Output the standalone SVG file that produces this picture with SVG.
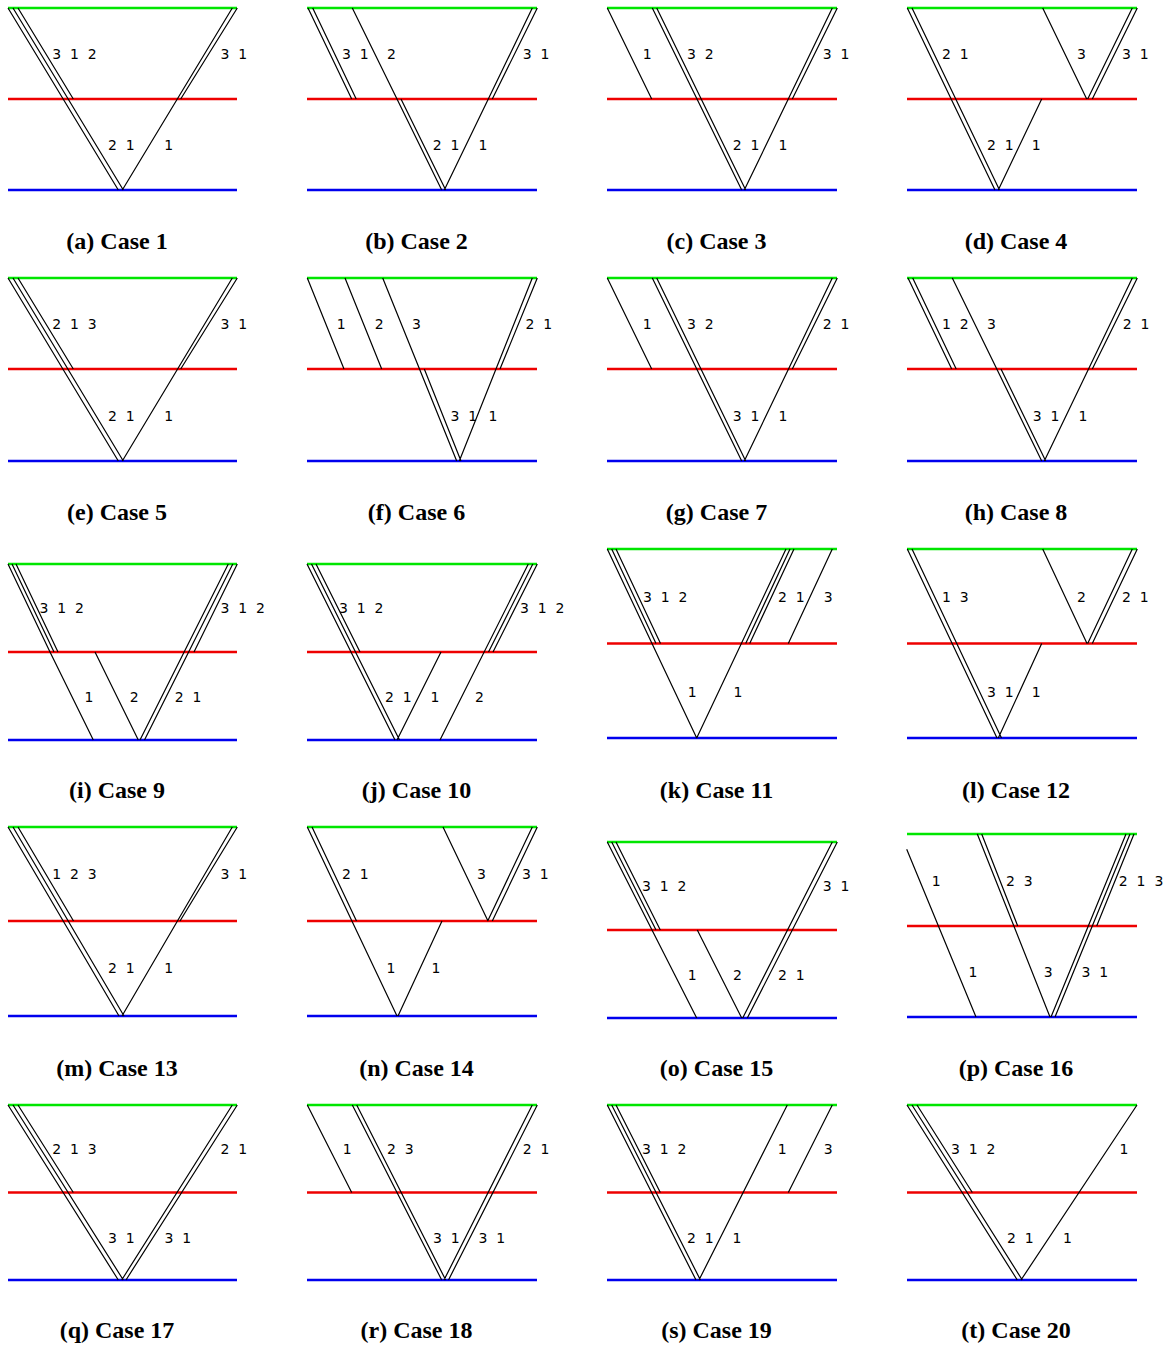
<svg xmlns="http://www.w3.org/2000/svg" width="1172" height="1348" viewBox="0 0 1172 1348">
<style>
.gl{stroke:#00e600;stroke-width:2.6}
.rl{stroke:#ee0000;stroke-width:2.6}
.bl{stroke:#0000ee;stroke-width:2.6}
.ray{fill:none;stroke:#000;stroke-width:1.2}
.lb{font-family:"DejaVu Sans",sans-serif;font-size:14px;fill:#000;white-space:pre}
.cap{font-family:"Liberation Serif",serif;font-size:24px;font-weight:bold;text-anchor:middle;fill:#000}
</style>
<rect width="1172" height="1348" fill="#fff"/>

<g id="case1">
<line class="gl" x1="8" y1="8" x2="237" y2="8"/><line class="rl" x1="8" y1="99" x2="237" y2="99"/><line class="bl" x1="8" y1="190" x2="237" y2="190"/>
<path class="ray" d="M8 8L118.3 190M13 8L123.3 190M18 8L73.3 99M237.3 8L180.7 99M232.3 8L122.3 190"/>
<g xml:space="preserve"><text class="lb" x="52.2" y="59">3  1  2</text><text class="lb" x="220.5" y="59">3  1</text><text class="lb" x="108" y="150">2  1</text><text class="lb" x="164.2" y="150">1</text></g>
<text class="cap" x="117" y="249">(a) Case 1</text>
</g>

<g id="case2">
<line class="gl" x1="307" y1="8" x2="537" y2="8"/><line class="rl" x1="307" y1="99" x2="537" y2="99"/><line class="bl" x1="307" y1="190" x2="537" y2="190"/>
<path class="ray" d="M308 8L351.7 99M312.7 8L356.2 99M352.3 8L441.7 190M401 99L445.7 190M537.3 8L492.3 99M532.3 8L444.3 190"/>
<g xml:space="preserve"><text class="lb" x="342" y="59">3  1</text><text class="lb" x="387" y="59">2</text><text class="lb" x="522.8" y="59">3  1</text><text class="lb" x="432.8" y="150">2  1</text><text class="lb" x="478.4" y="150">1</text></g>
<text class="cap" x="416.5" y="249">(b) Case 2</text>
</g>

<g id="case3">
<line class="gl" x1="607" y1="8" x2="837" y2="8"/><line class="rl" x1="607" y1="99" x2="837" y2="99"/><line class="bl" x1="607" y1="190" x2="837" y2="190"/>
<path class="ray" d="M607.3 8L651.7 99M652.3 8L741.7 190M656.7 8L745.7 190M837.3 8L792.3 99M832.3 8L744.3 190"/>
<g xml:space="preserve"><text class="lb" x="642.7" y="59">1</text><text class="lb" x="687" y="59">3  2</text><text class="lb" x="822.8" y="59">3  1</text><text class="lb" x="732.8" y="150">2  1</text><text class="lb" x="778.4" y="150">1</text></g>
<text class="cap" x="716.5" y="249">(c) Case 3</text>
</g>

<g id="case4">
<line class="gl" x1="907" y1="8" x2="1137" y2="8"/><line class="rl" x1="907" y1="99" x2="1137" y2="99"/><line class="bl" x1="907" y1="190" x2="1137" y2="190"/>
<path class="ray" d="M907.3 8L995 190M912 8L999.5 190M1042.7 8L1086.7 99M1137.3 8L1092.3 99M1132.3 8L1087.7 99M1041.7 99L998.3 190"/>
<g xml:space="preserve"><text class="lb" x="942" y="59">2  1</text><text class="lb" x="1077" y="59">3</text><text class="lb" x="1122" y="59">3  1</text><text class="lb" x="987" y="150">2  1</text><text class="lb" x="1031.7" y="150">1</text></g>
<text class="cap" x="1016" y="249">(d) Case 4</text>
</g>

<g id="case5">
<line class="gl" x1="8" y1="278" x2="237" y2="278"/><line class="rl" x1="8" y1="369" x2="237" y2="369"/><line class="bl" x1="8" y1="461" x2="237" y2="461"/>
<path class="ray" d="M8 278L118.3 461M13 278L123.3 461M18 278L73.3 369M237.3 278L180.7 369M232.3 278L122.3 461"/>
<g xml:space="preserve"><text class="lb" x="52.2" y="329.3">2  1  3</text><text class="lb" x="220.5" y="329.3">3  1</text><text class="lb" x="108" y="420.7">2  1</text><text class="lb" x="164.2" y="420.7">1</text></g>
<text class="cap" x="117" y="520">(e) Case 5</text>
</g>

<g id="case6">
<line class="gl" x1="307" y1="278" x2="537" y2="278"/><line class="rl" x1="307" y1="369" x2="537" y2="369"/><line class="bl" x1="307" y1="461" x2="537" y2="461"/>
<path class="ray" d="M307.3 278L344 369M345 278L381.7 369M382.7 278L456.7 461M424.3 369L461 461M537.3 278L500 369M532.3 278L459.3 461"/>
<g xml:space="preserve"><text class="lb" x="336.7" y="329.3">1</text><text class="lb" x="374.8" y="329.3">2</text><text class="lb" x="412" y="329.3">3</text><text class="lb" x="525.5" y="329.3">2  1</text><text class="lb" x="450.5" y="420.7">3  1</text><text class="lb" x="488.4" y="420.7">1</text></g>
<text class="cap" x="416.5" y="520">(f) Case 6</text>
</g>

<g id="case7">
<line class="gl" x1="607" y1="278" x2="837" y2="278"/><line class="rl" x1="607" y1="369" x2="837" y2="369"/><line class="bl" x1="607" y1="461" x2="837" y2="461"/>
<path class="ray" d="M607.3 278L651.7 369M652.3 278L741.7 461M656.7 278L745.7 461M837.3 278L792.3 369M832.3 278L744.3 461"/>
<g xml:space="preserve"><text class="lb" x="642.7" y="329.3">1</text><text class="lb" x="687" y="329.3">3  2</text><text class="lb" x="822.8" y="329.3">2  1</text><text class="lb" x="732.8" y="420.7">3  1</text><text class="lb" x="778.4" y="420.7">1</text></g>
<text class="cap" x="716.5" y="520">(g) Case 7</text>
</g>

<g id="case8">
<line class="gl" x1="907" y1="278" x2="1137" y2="278"/><line class="rl" x1="907" y1="369" x2="1137" y2="369"/><line class="bl" x1="907" y1="461" x2="1137" y2="461"/>
<path class="ray" d="M908 278L951.7 369M912.7 278L956.2 369M952.3 278L1041.7 461M1001 369L1045.7 461M1137.3 278L1092.3 369M1132.3 278L1044.3 461"/>
<g xml:space="preserve"><text class="lb" x="942" y="329.3">1  2</text><text class="lb" x="987" y="329.3">3</text><text class="lb" x="1122.8" y="329.3">2  1</text><text class="lb" x="1032.8" y="420.7">3  1</text><text class="lb" x="1078.4" y="420.7">1</text></g>
<text class="cap" x="1016" y="520">(h) Case 8</text>
</g>

<g id="case9">
<line class="gl" x1="8" y1="564" x2="237" y2="564"/><line class="rl" x1="8" y1="652" x2="237" y2="652"/><line class="bl" x1="8" y1="740" x2="237" y2="740"/>
<path class="ray" d="M8 564L50 652L93.3 740M12 564L54 652M16 564L58 652M95 652L138.3 740M237.3 564L194 652M232.8 564L144.5 740M228.3 564L140 740"/>
<g xml:space="preserve"><text class="lb" x="39.5" y="613.3">3  1  2</text><text class="lb" x="220.5" y="613.3">3  1  2</text><text class="lb" x="84.4" y="701.7">1</text><text class="lb" x="129.8" y="701.7">2</text><text class="lb" x="174.8" y="701.7">2  1</text></g>
<text class="cap" x="117" y="798">(i) Case 9</text>
</g>

<g id="case10">
<line class="gl" x1="307" y1="564" x2="537" y2="564"/><line class="rl" x1="307" y1="652" x2="537" y2="652"/><line class="bl" x1="307" y1="740" x2="537" y2="740"/>
<path class="ray" d="M307 564L395 740M311.5 564L399.5 740M316 564L360 652M537.3 564L493 652M532.8 564L488.5 652M528.3 564L440 740M441 652L397 740"/>
<g xml:space="preserve"><text class="lb" x="339" y="613.3">3  1  2</text><text class="lb" x="520" y="613.3">3  1  2</text><text class="lb" x="385" y="701.7">2  1</text><text class="lb" x="430.4" y="701.7">1</text><text class="lb" x="475" y="701.7">2</text></g>
<text class="cap" x="416.5" y="798">(j) Case 10</text>
</g>

<g id="case11">
<line class="gl" x1="607" y1="549" x2="837" y2="549"/><line class="rl" x1="607" y1="643.5" x2="837" y2="643.5"/><line class="bl" x1="607" y1="738" x2="837" y2="738"/>
<path class="ray" d="M607.3 549L696.7 738M611.7 549L656 643.5M616 549L660.5 643.5M786 549L696.7 738M790 549L745.7 643.5M794 549L749.7 643.5M832.3 549L788.3 643.5"/>
<g xml:space="preserve"><text class="lb" x="643" y="601.7">3  1  2</text><text class="lb" x="778" y="601.7">2  1</text><text class="lb" x="823.8" y="601.7">3</text><text class="lb" x="687.7" y="696.7">1</text><text class="lb" x="733.4" y="696.7">1</text></g>
<text class="cap" x="716.5" y="798">(k) Case 11</text>
</g>

<g id="case12">
<line class="gl" x1="907" y1="549" x2="1137" y2="549"/><line class="rl" x1="907" y1="643.5" x2="1137" y2="643.5"/><line class="bl" x1="907" y1="738" x2="1137" y2="738"/>
<path class="ray" d="M907.3 549L997 738M912 549L1001.5 738M1042.7 549L1087 643.5M1137.3 549L1092.3 643.5M1132.3 549L1087.7 643.5M1041.7 643.5L998.3 738"/>
<g xml:space="preserve"><text class="lb" x="942" y="601.7">1  3</text><text class="lb" x="1077" y="601.7">2</text><text class="lb" x="1122" y="601.7">2  1</text><text class="lb" x="987" y="696.7">3  1</text><text class="lb" x="1031.7" y="696.7">1</text></g>
<text class="cap" x="1016" y="798">(l) Case 12</text>
</g>

<g id="case13">
<line class="gl" x1="8" y1="827" x2="237" y2="827"/><line class="rl" x1="8" y1="921" x2="237" y2="921"/><line class="bl" x1="8" y1="1016" x2="237" y2="1016"/>
<path class="ray" d="M8 827L119 1016M13 827L124 1016M18 827L73.5 921M237.3 827L180 921M232.3 827L122 1016"/>
<g xml:space="preserve"><text class="lb" x="52.2" y="879">1  2  3</text><text class="lb" x="220.5" y="879">3  1</text><text class="lb" x="108" y="973">2  1</text><text class="lb" x="164.2" y="973">1</text></g>
<text class="cap" x="117" y="1076">(m) Case 13</text>
</g>

<g id="case14">
<line class="gl" x1="307" y1="827" x2="537" y2="827"/><line class="rl" x1="307" y1="921" x2="537" y2="921"/><line class="bl" x1="307" y1="1016" x2="537" y2="1016"/>
<path class="ray" d="M307.3 827L397 1016M312 827L356.5 921M443 827L488 921M537.3 827L492.3 921M532.3 827L487.7 921M442 921L398 1016"/>
<g xml:space="preserve"><text class="lb" x="342" y="879">2  1</text><text class="lb" x="477" y="879">3</text><text class="lb" x="522" y="879">3  1</text><text class="lb" x="386.5" y="973">1</text><text class="lb" x="431.5" y="973">1</text></g>
<text class="cap" x="416.5" y="1076">(n) Case 14</text>
</g>

<g id="case15">
<line class="gl" x1="607" y1="842" x2="837" y2="842"/><line class="rl" x1="607" y1="930" x2="837" y2="930"/><line class="bl" x1="607" y1="1018" x2="837" y2="1018"/>
<path class="ray" d="M607.3 842L696.7 1018M611.7 842L656 930M616 842L660.3 930M697.3 930L741.7 1018M837.3 842L747.3 1018M832.3 842L742.7 1018"/>
<g xml:space="preserve"><text class="lb" x="642" y="891">3  1  2</text><text class="lb" x="822.8" y="891">3  1</text><text class="lb" x="687.7" y="980">1</text><text class="lb" x="733" y="980">2</text><text class="lb" x="778" y="980">2  1</text></g>
<text class="cap" x="716.5" y="1076">(o) Case 15</text>
</g>

<g id="case16">
<line class="gl" x1="907" y1="834" x2="1137" y2="834"/><line class="rl" x1="907" y1="926" x2="1137" y2="926"/><line class="bl" x1="907" y1="1017" x2="1137" y2="1017"/>
<path class="ray" d="M906.7 849.3L976 1017M977.3 834L1050 1017M981.7 834L1017.7 926M1126 834L1051 1017M1130 834L1055 1017M1134 834L1096.7 926"/>
<g xml:space="preserve"><text class="lb" x="931.7" y="886">1</text><text class="lb" x="1006" y="886">2  3</text><text class="lb" x="1118.8" y="886">2  1  3</text><text class="lb" x="968.4" y="976.7">1</text><text class="lb" x="1043.8" y="976.7">3</text><text class="lb" x="1081.5" y="976.7">3  1</text></g>
<text class="cap" x="1016" y="1076">(p) Case 16</text>
</g>

<g id="case17">
<line class="gl" x1="8" y1="1105" x2="237" y2="1105"/><line class="rl" x1="8" y1="1192.5" x2="237" y2="1192.5"/><line class="bl" x1="8" y1="1280" x2="237" y2="1280"/>
<path class="ray" d="M8 1105L118.3 1280M13 1105L123.3 1280M18 1105L73.3 1192.5M237.3 1105L126 1280M232.3 1105L121.7 1280"/>
<g xml:space="preserve"><text class="lb" x="52.2" y="1154.3">2  1  3</text><text class="lb" x="220.5" y="1154.3">2  1</text><text class="lb" x="108" y="1242.7">3  1</text><text class="lb" x="164.5" y="1242.7">3  1</text></g>
<text class="cap" x="117" y="1338">(q) Case 17</text>
</g>

<g id="case18">
<line class="gl" x1="307" y1="1105" x2="537" y2="1105"/><line class="rl" x1="307" y1="1192.5" x2="537" y2="1192.5"/><line class="bl" x1="307" y1="1280" x2="537" y2="1280"/>
<path class="ray" d="M307.3 1105L351.7 1192.5M352.3 1105L441.7 1280M356.7 1105L445.7 1280M537.3 1105L448.5 1280M532.3 1105L444 1280"/>
<g xml:space="preserve"><text class="lb" x="342.7" y="1154.3">1</text><text class="lb" x="387" y="1154.3">2  3</text><text class="lb" x="522.8" y="1154.3">2  1</text><text class="lb" x="433" y="1242.7">3  1</text><text class="lb" x="478.5" y="1242.7">3  1</text></g>
<text class="cap" x="416.5" y="1338">(r) Case 18</text>
</g>

<g id="case19">
<line class="gl" x1="607" y1="1105" x2="837" y2="1105"/><line class="rl" x1="607" y1="1192.5" x2="837" y2="1192.5"/><line class="bl" x1="607" y1="1280" x2="837" y2="1280"/>
<path class="ray" d="M607.3 1105L696 1280M611.7 1105L700.4 1280M616 1105L660.3 1192.5M787.3 1105L699 1280M832.3 1105L788.3 1192.5"/>
<g xml:space="preserve"><text class="lb" x="642" y="1154.3">3  1  2</text><text class="lb" x="777.7" y="1154.3">1</text><text class="lb" x="823.8" y="1154.3">3</text><text class="lb" x="687" y="1242.5">2  1</text><text class="lb" x="732.4" y="1242.5">1</text></g>
<text class="cap" x="716.5" y="1338">(s) Case 19</text>
</g>

<g id="case20">
<line class="gl" x1="907" y1="1105" x2="1137" y2="1105"/><line class="rl" x1="907" y1="1192.5" x2="1137" y2="1192.5"/><line class="bl" x1="907" y1="1280" x2="1137" y2="1280"/>
<path class="ray" d="M907 1105L1017.3 1280M912 1105L1022.3 1280M917 1105L972.3 1192.5M1137 1105L1021 1280"/>
<g xml:space="preserve"><text class="lb" x="951" y="1154.3">3  1  2</text><text class="lb" x="1119.5" y="1154.3">1</text><text class="lb" x="1007" y="1242.5">2  1</text><text class="lb" x="1063" y="1242.5">1</text></g>
<text class="cap" x="1016" y="1338">(t) Case 20</text>
</g>
</svg>
